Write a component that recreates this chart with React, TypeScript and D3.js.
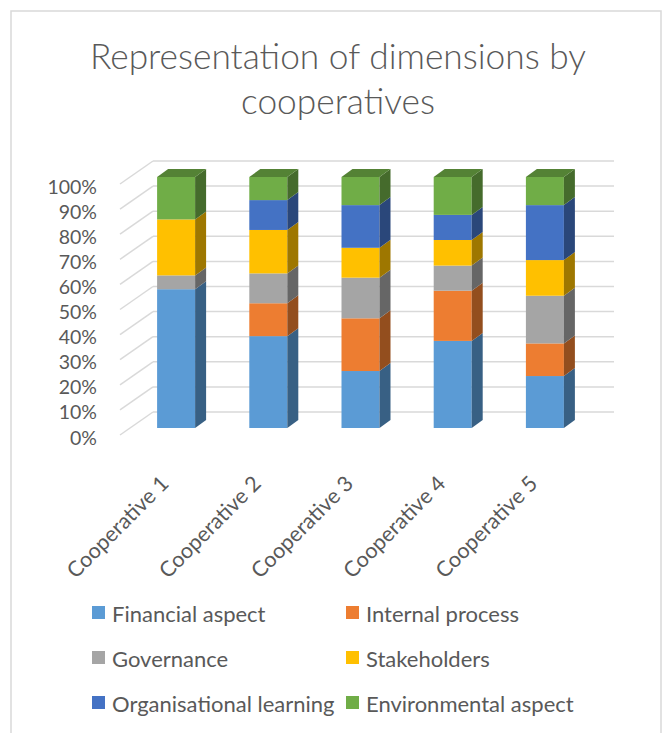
import React from "react";
import * as d3 from "d3";

const categories = ["Cooperative 1", "Cooperative 2", "Cooperative 3", "Cooperative 4", "Cooperative 5"];
const seriesNames = ["Financial aspect", "Internal process", "Governance", "Stakeholders", "Organisational learning", "Environmental aspect"];
const financial = [55.3, 36.6, 22.7, 34.7, 20.7];
const internal = [0, 13.1, 21.0, 20.0, 13.0];
const governance = [5.5, 11.9, 16.2, 10.0, 19.0];
const stakeholders = [22.3, 17.3, 11.9, 10.2, 14.2];
const orgLearning = [0, 11.9, 17.0, 10.0, 21.9];
const environmental = [16.9, 9.2, 11.2, 15.1, 11.2];
const colors = ["#5B9BD5", "#ED7D31", "#A5A5A5", "#FFC000", "#4472C4", "#70AD47"];
const yTicks = [0, 0.1, 0.2, 0.3, 0.4, 0.5, 0.6, 0.7, 0.8, 0.9, 1];

const FONT = "Lato, 'Open Sans', sans-serif";
const TXT = "#595959";

function shade(c: string, k: number) {
  const r = d3.rgb(c);
  return d3.rgb(r.r * k, r.g * k, r.b * k).formatHex();
}

export default function App() {
  const W = 663, H = 733;
  const fx0 = 120, fx1 = 581, fy0 = 435;
  const wallDx = 33, wallDy = -23;
  const barOffDx = 10, barOffDy = -7;
  const barDx = 11, barDy = -8;
  const barW = 38;

  const yFront = d3.scaleLinear().domain([0, 1]).range([fy0, fy0 - 251]);
  const x = d3.scaleBand<string>().domain(categories).range([fx0, fx1]).padding(0);

  const series = [financial, internal, governance, stakeholders, orgLearning, environmental];
  const rows = categories.map((c, i) => {
    const o: any = { cat: c };
    seriesNames.forEach((s, j) => (o[s] = series[j][i]));
    return o;
  });
  const stacked = d3.stack().keys(seriesNames).offset(d3.stackOffsetExpand)(rows);

  const yb = (v: number) => yFront(v) + barOffDy;

  return (
    <svg width={W} height={H} style={{ position: "absolute", left: 0, top: 0, background: "#fff" }}>
      <rect x={11} y={11} width={650} height={740} fill="#fff" stroke="#D9D9D9" strokeWidth={1.5} />
      <text x={338} y={55} textAnchor="middle" dominantBaseline="central" fontFamily={FONT} fontWeight={300} fontSize={35.3} fill={TXT}>
        Representation of dimensions by
      </text>
      <text x={338} y={100} textAnchor="middle" dominantBaseline="central" fontFamily={FONT} fontWeight={300} fontSize={35.3} fill={TXT}>
        cooperatives
      </text>
      {yTicks.map((t) => (
        <g key={t}>
          <line x1={fx0} y1={yFront(t)} x2={fx0 + wallDx} y2={yFront(t) + wallDy} stroke="#D9D9D9" strokeWidth={1.5} />
          <line x1={fx0 + wallDx} y1={yFront(t) + wallDy} x2={fx1 + wallDx} y2={yFront(t) + wallDy} stroke="#D9D9D9" strokeWidth={1.5} />
          <text x={97} y={yFront(t) + 2} textAnchor="end" dominantBaseline="central" fontFamily={FONT} fontSize={19.5} fill={TXT}>
            {d3.format(".0%")(t)}
          </text>
        </g>
      ))}
      {categories.map((c, i) => {
        const bx = (x(c) as number) + (x.bandwidth() - barW) / 2 + barOffDx;
        return (
          <g key={c}>
            {stacked.map((s, j) => {
              const [v0, v1] = s[i];
              if (v1 - v0 <= 0) return null;
              const col = colors[j];
              const yt = yb(v1), ybt = yb(v0);
              return (
                <g key={j}>
                  <rect x={bx} y={yt} width={barW} height={ybt - yt} fill={col} />
                  <path
                    d={`M${bx + barW},${yt}L${bx + barW + barDx},${yt + barDy}L${bx + barW + barDx},${ybt + barDy}L${bx + barW},${ybt}Z`}
                    fill={shade(col, 0.62)}
                  />
                </g>
              );
            })}
            {(() => {
              const top = yb(1);
              const col = colors[5];
              return (
                <path
                  d={`M${bx},${top}L${bx + barDx},${top + barDy}L${bx + barW + barDx},${top + barDy}L${bx + barW},${top}Z`}
                  fill={shade(col, 0.75)}
                />
              );
            })()}
          </g>
        );
      })}
      {categories.map((c) => {
        const cx = (x(c) as number) + x.bandwidth() / 2 + 4;
        const cy = 485;
        return (
          <text key={c} transform={`translate(${cx},${cy}) rotate(-45)`} textAnchor="end" fontFamily={FONT} fontSize={21.5} fill={TXT}>
            {c}
          </text>
        );
      })}
      {seriesNames.map((s, j) => {
        const col = j % 2;
        const row = Math.floor(j / 2);
        const lx = col === 0 ? 92 : 346;
        const ly = 613 + row * 45;
        return (
          <g key={s}>
            <rect x={lx} y={ly - 7} width={13} height={13} fill={colors[j]} />
            <text x={lx + 20} y={ly} dominantBaseline="central" fontFamily={FONT} fontSize={22} fill={TXT}>
              {s}
            </text>
          </g>
        );
      })}
    </svg>
  );
}
